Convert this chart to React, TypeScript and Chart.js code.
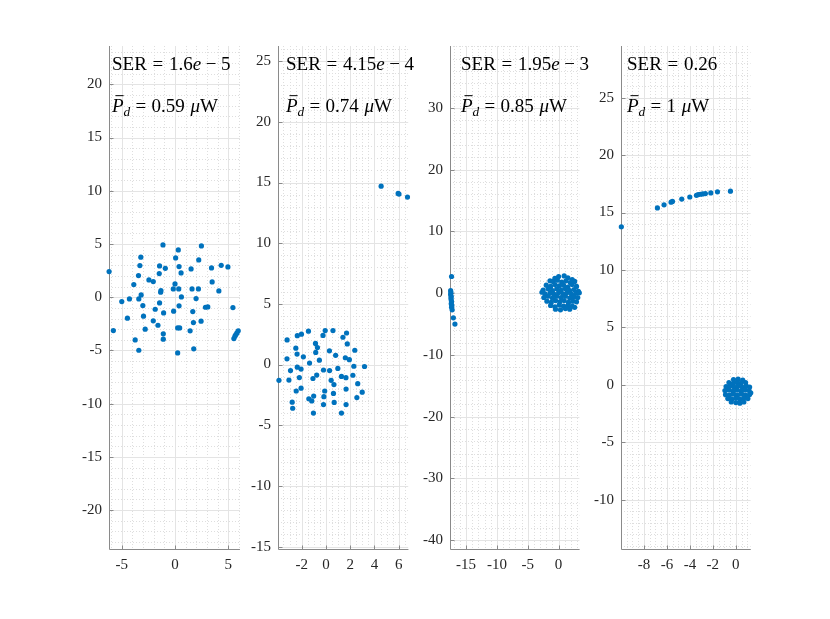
import React, { useEffect, useRef } from 'react';
import { Chart, registerables } from 'chart.js';

Chart.register(...registerables);

type Pt = [number, number];

// ---- data ----
const p1Points: Pt[] = [
  [-6.19, 2.41], [-5.79, -3.13], [-5.0, -0.41], [-4.28, -0.16], [-4.47, -1.97], [-3.87, 1.19],
  [-3.74, -4.01], [-3.4, -4.98], [-3.43, 2.03], [-3.3, 2.97], [-3.21, 3.76], [-3.4, -0.16],
  [-3.18, 0.22], [-3.02, -0.78], [-2.96, -1.78], [-2.8, -3.0], [-2.45, 1.63], [-2.04, 1.47],
  [-2.04, -2.22], [-1.86, -1.13], [-1.6, -2.63], [-1.48, 2.22], [-1.45, 2.94], [-1.45, -0.53],
  [-1.35, 0.47], [-1.32, 0.63], [-1.13, 4.91], [-1.1, -3.44], [-1.07, -1.47], [-1.1, -3.94],
  [-0.91, 2.72], [-0.16, 0.78], [-0.13, -1.31], [0.0, 1.25], [0.06, 3.69], [0.31, 4.44],
  [0.25, -5.23], [0.25, -2.88], [0.44, -2.88], [0.35, 0.78], [0.38, -0.81], [0.38, 2.88],
  [0.57, 2.28], [0.6, 0.03], [1.51, 2.66], [1.6, 0.78], [1.67, -1.35], [1.73, -2.38],
  [1.76, -4.85], [1.42, -3.16], [1.98, -0.13], [2.2, 0.78], [2.23, 3.5], [2.48, 4.82],
  [2.45, -2.25], [2.86, -0.94], [3.08, -0.91], [3.43, 2.75], [3.49, 1.44], [4.12, 0.59],
  [4.34, 3.0], [4.97, 2.85], [5.44, -0.97], [5.53, -3.88], [5.63, -3.66], [5.72, -3.5],
  [5.82, -3.35], [5.94, -3.16],
];

const p2Points: Pt[] = [
  [-3.87, -1.3], [-3.2, 2.03], [-3.21, 0.47], [-3.05, -1.28], [-2.92, -0.5], [-2.78, -3.1],
  [-2.74, -3.6], [-2.48, 1.35], [-2.38, 0.86], [-2.36, 2.38], [-2.02, 2.5], [-2.45, -2.18],
  [-2.36, -0.22], [-2.19, -1.07], [-2.05, -0.37], [-2.05, -1.95], [-1.86, 0.64], [-1.44, 2.75],
  [-1.35, 0.12], [-1.41, -2.82], [-1.17, -3.0], [-1.07, -1.15], [-1.03, -4.0], [-1.01, -2.6],
  [-0.86, 1.74], [-0.84, 1.0], [-0.7, 1.4], [-0.76, -0.87], [-0.54, 0.36], [-0.24, 2.4],
  [-0.06, 2.8], [-0.2, -0.45], [-0.17, -2.65], [-0.2, -3.3], [-0.1, -2.18], [0.29, 1.13],
  [0.3, -0.5], [0.43, -1.3], [0.58, 2.8], [0.66, -1.65], [0.62, -2.38], [0.68, -3.12],
  [0.8, 0.76], [0.98, -0.32], [1.28, -0.98], [1.28, -4.0], [1.4, 2.25], [1.6, 0.56],
  [1.65, -1.08], [1.66, -2.02], [1.66, -3.3], [1.7, 2.6], [1.76, 1.7], [1.93, 0.4],
  [2.22, -0.88], [2.3, -0.14], [2.38, 1.18], [2.55, -2.72], [2.62, -1.58], [2.99, -2.28],
  [3.18, -0.16],
  [4.55, 14.7], [5.95, 14.1], [6.02, 14.05], [6.72, 13.8],
];

const p3Points: Pt[] = [
  [-17.35, 2.7], [-17.5, 0.4], [-17.45, 0.1], [-17.5, -0.2], [-17.4, -0.5], [-17.45, -0.8],
  [-17.4, -1.1], [-17.35, -1.4], [-17.4, -1.7], [-17.3, -2.0], [-17.35, -2.3], [-17.25, -2.7],
  [-17.05, -4.0], [-16.8, -5.0],
  [0.0, 2.7], [0.9, 2.8], [1.5, 2.5], [-0.6, 2.4], [2.2, 2.2],
  [-1.4, 2.0], [-0.9, 1.9], [-0.2, 2.1], [0.5, 1.8], [1.2, 2.0], [1.9, 1.7], [2.6, 1.9],
  [-2.0, 1.3], [-1.3, 1.1], [-0.6, 1.4], [0.1, 1.2], [0.8, 1.3], [1.5, 1.0], [2.2, 1.4], [2.9, 1.1],
  [-2.5, 0.5], [-1.7, 0.7], [-1.0, 0.4], [-0.3, 0.7], [0.4, 0.5], [1.1, 0.7], [1.8, 0.4], [2.5, 0.6], [3.2, 0.3],
  [-2.7, 0.15], [-2.2, -0.1], [-1.4, 0.0], [-0.7, -0.2], [0.0, 0.1], [0.7, -0.1], [1.4, 0.1], [2.1, -0.2], [2.8, 0.0], [3.35, 0.05],
  [-2.4, -0.7], [-1.7, -0.5], [-1.0, -0.8], [-0.3, -0.5], [0.4, -0.7], [1.1, -0.5], [1.8, -0.8], [2.5, -0.6], [3.1, -0.7],
  [-1.9, -1.3], [-1.2, -1.5], [-0.5, -1.2], [0.2, -1.4], [0.9, -1.2], [1.6, -1.5], [2.3, -1.3], [2.9, -1.4],
  [-1.3, -2.0], [-0.6, -2.2], [0.1, -1.9], [0.8, -2.1], [1.5, -2.0], [2.2, -2.1],
  [-0.5, -2.6], [0.3, -2.7], [1.1, -2.5], [1.8, -2.6], [2.6, -2.3],
];

const p4Points: Pt[] = [
  [-9.97, 13.76], [-6.83, 15.4], [-6.25, 15.67], [-5.64, 15.9], [-5.52, 15.97], [-4.71, 16.17],
  [-4.01, 16.35], [-3.43, 16.5], [-3.28, 16.56], [-3.08, 16.59], [-2.88, 16.62], [-2.65, 16.65],
  [-2.18, 16.71], [-1.6, 16.8], [-0.47, 16.86],
  [-0.2, 0.45], [0.2, 0.5], [0.6, 0.4],
  [-0.6, 0.2], [-0.25, 0.1], [0.1, 0.2], [0.45, 0.15], [0.85, 0.2],
  [-0.85, -0.15], [-0.5, -0.1], [-0.15, -0.2], [0.2, -0.1], [0.55, -0.2], [0.9, -0.1], [1.2, -0.2],
  [-0.95, -0.5], [-0.6, -0.45], [-0.25, -0.55], [0.1, -0.45], [0.45, -0.55], [0.8, -0.45], [1.15, -0.5], [1.3, -0.7],
  [-0.9, -0.85], [-0.55, -0.9], [-0.2, -0.8], [0.15, -0.9], [0.5, -0.8], [0.85, -0.9], [1.2, -0.85],
  [-0.7, -1.2], [-0.35, -1.25], [0.0, -1.15], [0.35, -1.25], [0.7, -1.15], [1.05, -1.2],
  [-0.4, -1.5], [0.0, -1.55], [0.35, -1.6], [0.7, -1.5],
];

// tick labels per panel
const p1XTicks = [-5, 0, 5];
const p1YTicks = [-20, -15, -10, -5, 0, 5, 10, 15, 20];
const p2XTicks = [-2, 0, 2, 4, 6];
const p2YTicks = [-15, -10, -5, 0, 5, 10, 15, 20, 25];
const p3XTicks = [-15, -10, -5, 0];
const p3YTicks = [-40, -30, -20, -10, 0, 10, 20, 30];
const p4XTicks = [-8, -6, -4, -2, 0];
const p4YTicks = [-10, -5, 0, 5, 10, 15, 20, 25];

// annotation values: SER mantissa, SER exponent, mean detected power
const serMantissa = ['1.6', '4.15', '1.95', '0.26'];
const serExponent = ['5', '4', '3', ''];
const pdValues = ['0.59', '0.74', '0.85', '1'];

// ---- layout ----
const FIG_H = 619;
const PLOT_TOP = 46;
const PLOT_BOTTOM = 549;
const Y_AXIS_W = 45;
const RIGHT_EXTRA = 80;
const BLUE = '#0072BD';
const TICK_COLOR = '#262626';
const AXIS_COLOR = '#8a8a8a';
const SERIF = '"Liberation Serif", "Times New Roman", serif';

interface PanelCfg {
  points: Pt[];
  xMin: number; xMax: number; yMin: number; yMax: number;
  xTicks: number[]; yTicks: number[];
  xMinor: number; yMinor: number;
  left: number;
  textDx: number;
  idx: number;
}

const panels: PanelCfg[] = [
  { points: p1Points, xMin: -6.2, xMax: 6.1, yMin: -23.65, yMax: 23.6, xTicks: p1XTicks, yTicks: p1YTicks, xMinor: 1, yMinor: 1, left: 109, textDx: 3, idx: 0 },
  { points: p2Points, xMin: -3.95, xMax: 6.8, yMin: -15.2, yMax: 26.25, xTicks: p2XTicks, yTicks: p2YTicks, xMinor: 0.5, yMinor: 1, left: 278, textDx: 8, idx: 1 },
  { points: p3Points, xMin: -17.6, xMax: 3.4, yMin: -41.45, yMax: 40.05, xTicks: p3XTicks, yTicks: p3YTicks, xMinor: 1, yMinor: 2, left: 450, textDx: 11, idx: 2 },
  { points: p4Points, xMin: -10.0, xMax: 1.3, yMin: -14.3, yMax: 29.5, xTicks: p4XTicks, yTicks: p4YTicks, xMinor: 0.5, yMinor: 1, left: 621, textDx: 6, idx: 3 },
];

// grid, axis lines and inward ticks, MATLAB style
const gridPlugin = {
  id: 'matlabGrid',
  beforeDatasetsDraw(chart: any, _args: any, opts: any) {
    const { ctx, chartArea: a, scales } = chart;
    const xs = scales.x;
    const ys = scales.y;
    const isMajor = (v: number, list: number[]) => list.some((t) => Math.abs(t - v) < 1e-6);
    ctx.save();
    ctx.beginPath();
    ctx.rect(a.left, a.top, a.right - a.left, a.bottom - a.top);
    ctx.clip();
    ctx.lineWidth = 1;
    // minor
    ctx.setLineDash([1, 2]);
    ctx.strokeStyle = '#dedede';
    for (let k = Math.ceil(xs.min / opts.xMinor); k * opts.xMinor <= xs.max; k++) {
      const v = k * opts.xMinor;
      if (isMajor(v, opts.xTicks)) continue;
      const px = Math.round(xs.getPixelForValue(v)) + 0.5;
      ctx.beginPath(); ctx.moveTo(px, a.top); ctx.lineTo(px, a.bottom); ctx.stroke();
    }
    for (let k = Math.ceil(ys.min / opts.yMinor); k * opts.yMinor <= ys.max; k++) {
      const v = k * opts.yMinor;
      if (isMajor(v, opts.yTicks)) continue;
      const py = Math.round(ys.getPixelForValue(v)) + 0.5;
      ctx.beginPath(); ctx.moveTo(a.left, py); ctx.lineTo(a.right, py); ctx.stroke();
    }
    // major
    ctx.setLineDash([]);
    ctx.strokeStyle = '#e4e4e4';
    opts.xTicks.forEach((v: number) => {
      const px = Math.round(xs.getPixelForValue(v)) + 0.5;
      ctx.beginPath(); ctx.moveTo(px, a.top); ctx.lineTo(px, a.bottom); ctx.stroke();
    });
    opts.yTicks.forEach((v: number) => {
      const py = Math.round(ys.getPixelForValue(v)) + 0.5;
      ctx.beginPath(); ctx.moveTo(a.left, py); ctx.lineTo(a.right, py); ctx.stroke();
    });
    ctx.restore();

    // axes
    ctx.save();
    ctx.strokeStyle = AXIS_COLOR;
    ctx.lineWidth = 1;
    const lx = Math.round(a.left) + 0.5;
    const by = Math.round(a.bottom) + 0.5;
    ctx.beginPath();
    ctx.moveTo(lx, a.top); ctx.lineTo(lx, by); ctx.lineTo(a.right, by);
    opts.yTicks.forEach((v: number) => {
      const py = Math.round(ys.getPixelForValue(v)) + 0.5;
      ctx.moveTo(lx, py); ctx.lineTo(lx + 4, py);
    });
    opts.xTicks.forEach((v: number) => {
      const px = Math.round(xs.getPixelForValue(v)) + 0.5;
      ctx.moveTo(px, by); ctx.lineTo(px, by - 4);
    });
    ctx.stroke();
    ctx.restore();
  },
};

type Run = { t?: string; it?: boolean; sub?: boolean; bar?: boolean; gap?: number };

function drawRuns(ctx: CanvasRenderingContext2D, runs: Run[], x0: number, base: number, size: number) {
  let x = x0;
  runs.forEach((r) => {
    if (r.gap) { x += r.gap * size; return; }
    const fs = r.sub ? size * 0.7 : size;
    ctx.font = `${r.it ? 'italic ' : ''}${fs}px ${SERIF}`;
    const y = r.sub ? base + size * 0.22 : base;
    ctx.fillText(r.t || '', x, y);
    const w = ctx.measureText(r.t || '').width;
    if (r.bar) {
      ctx.save();
      ctx.lineWidth = 1;
      ctx.strokeStyle = '#000';
      ctx.beginPath();
      ctx.moveTo(x + w * 0.3, base - size * 0.86);
      ctx.lineTo(x + w * 1.0, base - size * 0.86);
      ctx.stroke();
      ctx.restore();
    }
    x += w;
  });
}

const textPlugin = {
  id: 'serText',
  afterDraw(chart: any, _args: any, opts: any) {
    const { ctx, chartArea: a } = chart;
    const i = opts.idx;
    const size = 19;
    const ser: Run[] = [{ t: 'SER' }, { gap: 0.3 }, { t: '=' }, { gap: 0.3 }, { t: serMantissa[i] }];
    if (serExponent[i]) {
      ser.push({ t: 'e', it: true }, { gap: 0.24 }, { t: '\u2212' }, { gap: 0.24 }, { t: serExponent[i] });
    }
    const pd: Run[] = [
      { t: 'P', it: true, bar: true }, { t: 'd', it: true, sub: true },
      { gap: 0.28 }, { t: '=' }, { gap: 0.28 }, { t: pdValues[i] }, { gap: 0.3 },
      { t: '\u03bc', it: true }, { t: 'W' },
    ];
    ctx.save();
    ctx.fillStyle = '#000';
    ctx.textBaseline = 'alphabetic';
    ctx.textAlign = 'left';
    drawRuns(ctx, ser, a.left + opts.dx, 70, size);
    drawRuns(ctx, pd, a.left + opts.dx, 112, size);
    ctx.restore();
  },
};

const Panel = ({ cfg }: { cfg: PanelCfg }) => {
  const canvasRef = useRef<HTMLCanvasElement>(null);
  const pxPerUnit = (PLOT_BOTTOM - PLOT_TOP) / (cfg.yMax - cfg.yMin);
  const plotW = (cfg.xMax - cfg.xMin) * pxPerUnit;
  const canvasW = Math.ceil(Y_AXIS_W + plotW + RIGHT_EXTRA);

  useEffect(() => {
    if (!canvasRef.current) return;
    const tickFont = { family: SERIF, size: 15 };
    const chart = new Chart(canvasRef.current, {
      type: 'scatter',
      data: {
        datasets: [{
          data: cfg.points.map(([x, y]) => ({ x, y })),
          backgroundColor: BLUE,
          borderWidth: 0,
          pointRadius: 2.6,
          pointHoverRadius: 2.6,
          clip: false,
        }],
      },
      options: {
        animation: false,
        responsive: false,
        events: [],
        layout: { padding: { top: PLOT_TOP, left: 0, bottom: 0, right: canvasW - Y_AXIS_W - plotW } },
        plugins: {
          legend: { display: false },
          tooltip: { enabled: false },
          matlabGrid: { xTicks: cfg.xTicks, yTicks: cfg.yTicks, xMinor: cfg.xMinor, yMinor: cfg.yMinor },
          serText: { idx: cfg.idx, dx: cfg.textDx },
        } as any,
        scales: {
          x: {
            type: 'linear',
            position: 'bottom',
            min: cfg.xMin,
            max: cfg.xMax,
            grid: { display: false, drawTicks: false },
            border: { display: false },
            ticks: { font: tickFont, color: TICK_COLOR, padding: 7, autoSkip: false, maxRotation: 0, callback: (v: any) => String(v) },
            afterBuildTicks: (s: any) => { s.ticks = cfg.xTicks.map((value) => ({ value })); },
            afterFit: (s: any) => { s.height = FIG_H - PLOT_BOTTOM; },
          },
          y: {
            type: 'linear',
            min: cfg.yMin,
            max: cfg.yMax,
            grid: { display: false, drawTicks: false },
            border: { display: false },
            ticks: { font: tickFont, color: TICK_COLOR, padding: 7, autoSkip: false, callback: (v: any) => String(v) },
            afterBuildTicks: (s: any) => { s.ticks = cfg.yTicks.map((value) => ({ value })); },
            afterFit: (s: any) => { s.width = Y_AXIS_W; },
          },
        },
      },
      plugins: [gridPlugin, textPlugin],
    });
    return () => {
      chart.destroy();
    };
  }, []);

  return (
    <canvas
      ref={canvasRef}
      width={canvasW}
      height={FIG_H}
      style={{ position: 'absolute', left: cfg.left - Y_AXIS_W, top: 0, width: canvasW, height: FIG_H }}
    />
  );
};

const App = () => {
  return (
    <div style={{ position: 'absolute', left: 0, top: 0, width: 830, height: FIG_H, background: '#fff', overflow: 'hidden' }}>
      {panels.map((p) => (
        <Panel key={p.idx} cfg={p} />
      ))}
    </div>
  );
};

export default App;
